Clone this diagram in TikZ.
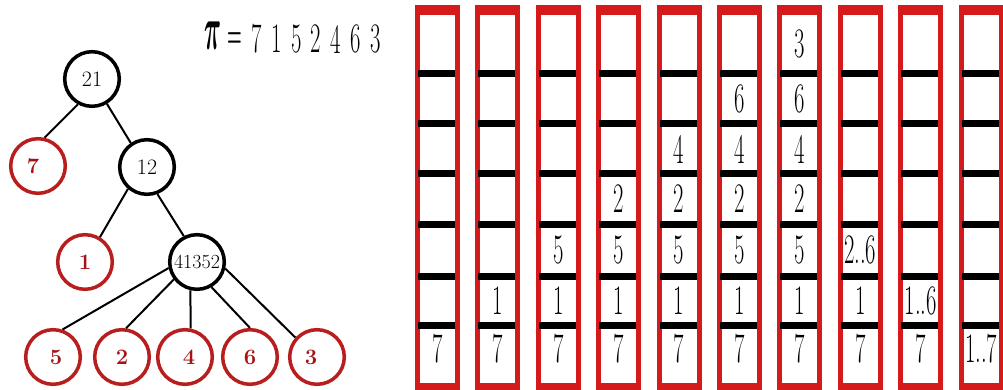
\documentclass[tikz,border=0pt]{standalone}
\usepackage{graphicx}
\usepackage{amsmath}
\definecolor{colred}{RGB}{212,26,26}
\definecolor{treered}{RGB}{185,30,30}
\definecolor{labred}{RGB}{165,20,20}
\newcommand\cnd[1]{\scalebox{0.54}[1]{\fontsize{42}{42}\selectfont #1}}
\begin{document}
\begin{tikzpicture}[x=1pt,y=-1pt,
  tnode/.style={circle,draw=black,line width=3.5pt,minimum size=54.6pt,inner sep=0pt,font=\fontsize{22}{22}\selectfont},
  lnode/.style={circle,draw=treered,line width=3.5pt,minimum size=54.6pt,inner sep=0pt,text=labred,font=\fontsize{22}{22}\selectfont\bfseries},
  tedge/.style={line width=2pt},
  dig/.style={inner sep=0pt},
  sep/.style={line width=7pt,black}
]
\useasboundingbox (0,0) rectangle (1003,390);
% tree
\node[tnode] (n21) at (92,79) {21};
\node[lnode] (n7) at (38,166) {\hspace*{-10pt}7};
\node[tnode] (n12) at (147,167) {12};
\node[lnode] (n1) at (85,262) {1};
\node[tnode,font=\fontsize{20}{20}\selectfont] (n41352) at (197,262) {41352};
\node[lnode] (c5) at (53,357) {\hspace*{6pt}5};
\node[lnode] (c2) at (122,357) {2};
\node[lnode] (c4) at (185,357) {\hspace*{8pt}4};
\node[lnode] (c6) at (250,357) {6};
\node[lnode] (c3) at (317,357) {\hspace*{-12pt}3};
\draw[tedge] (n21.241) -- (n7.77);
\draw[tedge] (n21.301) -- (n12.124);
\draw[tedge] (n12.229) -- (n1.59);
\draw[tedge] (n12.291) -- (n41352.117);
\draw[tedge] (n41352.192) -- (c5.71);
\draw[tedge] (n41352.217) -- (c2.82);
\draw[tedge] (n41352.257) -- (c4.79);
\draw[tedge] (n41352.300) -- (c6.90);
\draw[tedge] (n41352.347) -- (c3.138);
% permutation
\node[dig] (pi) at (212.5,36) {\scalebox{0.95}[2.5]{\fontsize{28}{28}\selectfont$\boldsymbol{\pi}$}};
\node[dig] (eq) at (235,40) {\scalebox{0.7}[1.6]{\fontsize{24}{24}\selectfont\bfseries =}};
\foreach \d [count=\k from 0] in {7,1,5,2,4,6,3}
  \node[dig] (p\k) at (257+19.7*\k,39) {\cnd{\d}};
% columns
\foreach \i in {0,...,9}{
  \pgfmathsetmacro{\xl}{415+60.4*\i}
  \fill[colred] (\xl,5) rectangle (\xl+45,390);
  \fill[white] (\xl+5,15) rectangle (\xl+40,383);
  \foreach \yy in {73.3,124,174,224.3,276.3,325.3}
    \draw[sep] (\xl+3,\yy) -- (\xl+40,\yy);
}
% column contents: slot centres 44,99,149,199,250,301,349
\foreach \i in {0,...,8}
  \node[dig] (s\i-6) at ({437.5+60.4*\i},349) {\cnd{7}};
\foreach \i in {1,...,7}
  \node[dig] (s\i-5) at ({437.5+60.4*\i},301) {\cnd{1}};
\foreach \i in {2,...,6}
  \node[dig] (s\i-4) at ({437.5+60.4*\i},250) {\cnd{5}};
\foreach \i in {3,...,6}
  \node[dig] (s\i-3) at ({437.5+60.4*\i},199) {\cnd{2}};
\foreach \i in {4,...,6}
  \node[dig] (s\i-2) at ({437.5+60.4*\i},149) {\cnd{4}};
\foreach \i in {5,6}
  \node[dig] (s\i-1) at ({437.5+60.4*\i},99) {\cnd{6}};
\node[dig] (s6-0) at ({437.5+60.4*6},44) {\cnd{3}};
\node[dig] (s7-4) at ({437.5+60.4*7},250) {\cnd{2..6}};
\node[dig] (s8-5) at ({437.5+60.4*8},301) {\cnd{1..6}};
\node[dig] (s9-6) at ({437.5+60.4*9},349) {\cnd{1..7}};
\end{tikzpicture}
\end{document}
